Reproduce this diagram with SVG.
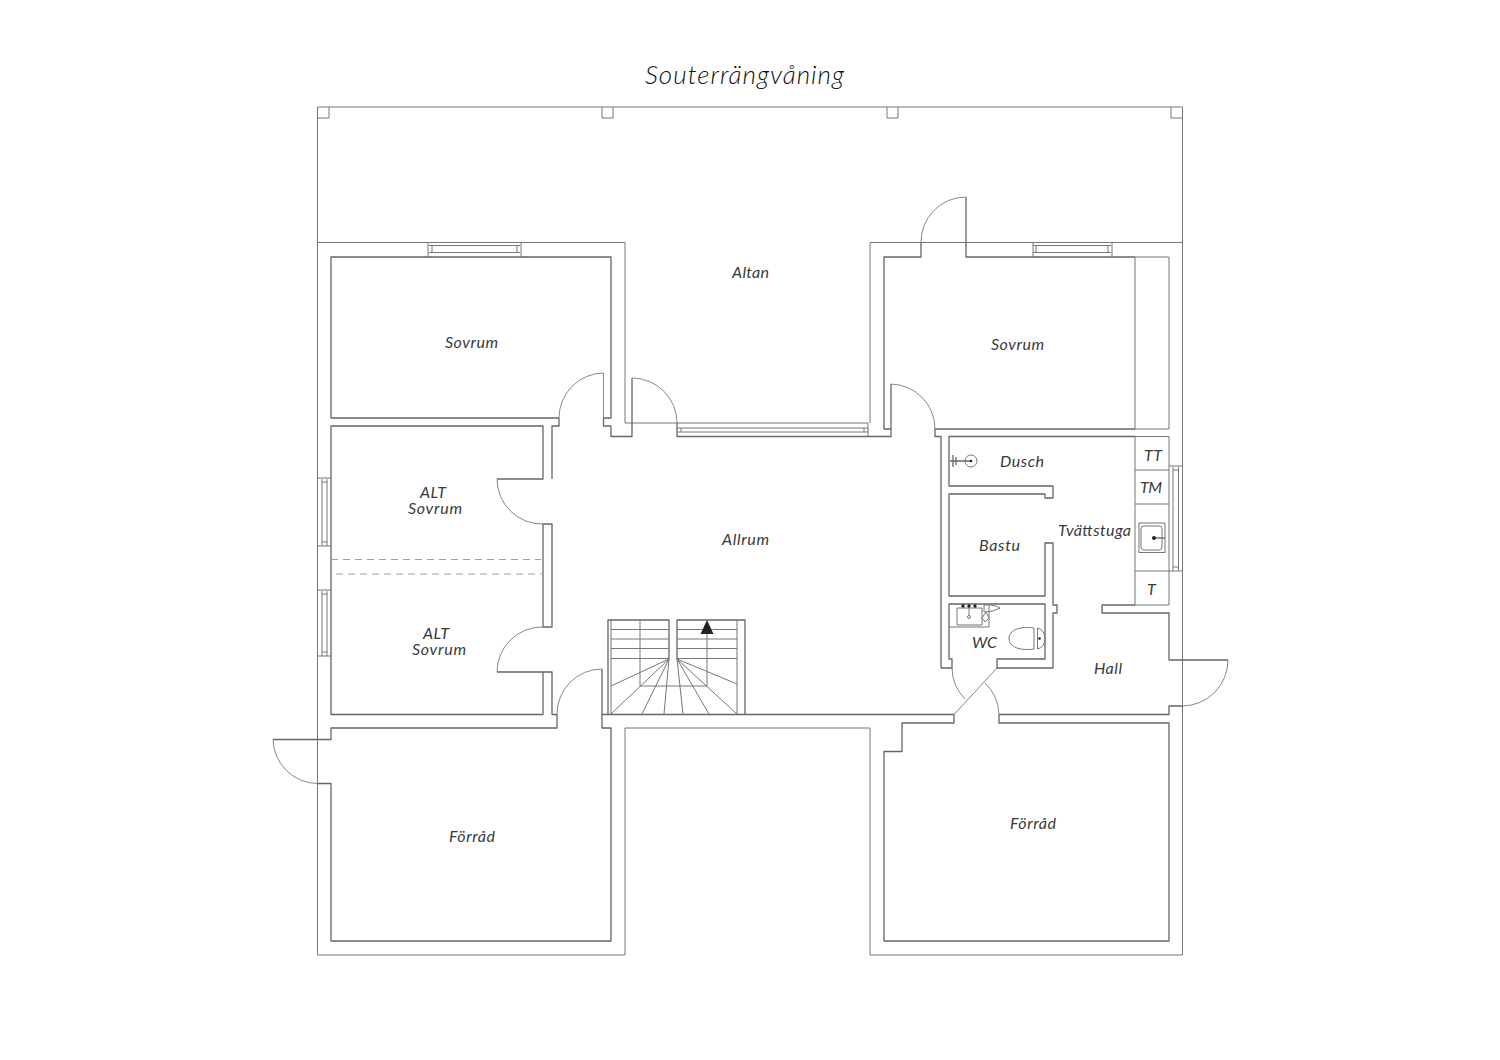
<svg xmlns="http://www.w3.org/2000/svg" width="1500" height="1060" viewBox="0 0 1500 1060">
<style>
.w{fill:none;stroke:#666;stroke-width:1.3;stroke-linejoin:round}
.t{fill:none;stroke:#777;stroke-width:1}
.g{fill:none;stroke:#888;stroke-width:1}
.d{fill:none;stroke:#a0a0a0;stroke-width:1.2;stroke-dasharray:7 5}
.k{fill:#222;stroke:none}
text{font-family:"Lato","Liberation Sans",sans-serif;font-style:italic;font-weight:400;font-size:16px;fill:#3a3a3a}
#title{font-size:26px;font-weight:300;fill:#111}
</style>
<rect width="1500" height="1060" fill="#fff"/>
<g id="terrace">
<path class="t" d="M317.500 955V107H1182.500V955"/>
<path class="t" d="M317.500 955H625V728H870V955H1182.500"/>
<path class="t" d="M317.500 118H329V107M602 107V118H613V107M887 107V118H898V107M1171 107V118H1182.500"/>
<path class="t" d="M317.500 242.500H625V423H868M870 423V242.500H1182.500"/>
</g>
<g id="walls">
<path class="w" d="M559 418H331V257H611V418H603.500V426H611V436.500H632V378"/>
<path class="w" d="M677 423V436.500H891V429H884V257H921V242.500M966 197V257H1135M941 668H952V659H949V604H1045V659H997V668H1053V613H1057V605H1053V543H1045V596H949V494H1045V498H1053V486H949V436.500H1135M941 668V436.500H935V429H1135M891 429V384"/>
<path class="t" d="M1135 257V429M1135 257H1169V429H1135M1135 436.500H1169V605H1135M1135 436.500V605M1135 470H1169M1135 504H1169M1135 571H1169"/>
<path class="w" d="M1135 605H1102V613H1169V660H1228"/>
<path class="w" d="M1182.500 706H1169V714.500H999V723H1169V941H884V751.500H902V723H954V714.500H745V620H677V659M669 659V620H608V714.500M602 669V728H611V941H331V783.500H317.500M273 739.500H331V728H557V714.500H552V672H497M543 672V714.500H331V426H543V479H497M552 479V426H559V418M543 524V627H552V524ZM602 714.500H745"/>
</g>
<g id="doors">
<path class="g" d="M603.500 373V418M603.500 373A45 45 0 0 0 559 418"/>
<path class="g" d="M632 378A45 45 0 0 1 677 423"/>
<path class="g" d="M891 384A45 45 0 0 1 935 429"/>
<path class="g" d="M966 197A45 45 0 0 0 921 242.500"/>
<path class="g" d="M497 479A45 45 0 0 0 543 524"/>
<path class="g" d="M543 627A45 45 0 0 0 497 672"/>
<path class="g" d="M602 669A45 45 0 0 0 557 714.500"/>
<path class="g" d="M273 739.500A45 45 0 0 0 317.500 783.500"/>
<path class="g" d="M1228 660A46 46 0 0 1 1182.500 706"/>
<path class="g" d="M952 668A45 45 0 0 0 965 699"/>
<path class="g" d="M997 668L954 714.500"/>
<path class="g" d="M985 683A45 45 0 0 1 999 714.500"/>
</g>
<g id="windows">
<path class="t" d="M428 242.500V257M521 242.500V257M429 245.500H520M429 252.500H520M432 245.500V252.500M517 245.500V252.500"/>
<path class="t" d="M1033 242.500V257M1112 242.500V257M1033 245.500H1111M1033 252.500H1111M1036 245.500V252.500M1108 245.500V252.500"/>
<path class="t" d="M677 428H868M677 432H868M868 423V436.500M681 428V432M864 428V432"/>
<path class="t" d="M317.500 478H331M317.500 546H331M322 479V546M327 479V546M322 482H327M322 542H327"/>
<path class="t" d="M317.500 590H331M317.500 656H331M322 591V656M327 591V656M322 594H327M322 652H327"/>
<path class="t" d="M1169 466H1182.500M1169 571H1182.500M1173 467V571M1178.500 467V571M1173 470H1178.500M1173 567H1178.500"/>
<path class="d" d="M331 559.500H541M336 574H543"/>
</g>
<g id="stairs">
<path class="t" d="M611 620V714.500M737 620V714.500"/>
<path class="t" d="M611 629.500H669M611 639H669M611 648.500H669M611 658.500H669M677 629.500H737M677 639H737M677 648.500H737M677 658.500H737"/>
<path class="t" d="M640 620V686H707V632"/>
<path class="t" d="M669 659L611 686M669 659L611 714M669 659L642 714M669 659L664 714M677 659L737 684M677 659L737 714M677 659L709 714M677 659L683 714"/>
<path class="k" d="M707 620L713.500 634H700.500Z"/>
</g>
<g id="fixtures">
<circle class="t" cx="971" cy="461" r="6"/>
<path class="w" d="M950 461H971M953 455V467M956 457V465"/>
<circle class="k" cx="971" cy="461" r="1.300"/>
<rect class="t" x="1139" y="523" width="26" height="29.500"/>
<rect class="t" x="1141" y="526" width="21" height="24" rx="3"/>
<path class="w" d="M1154 538H1165"/>
<circle class="k" cx="1154" cy="538" r="2"/>
<path class="t" d="M949 627H989V605M957 608H982V625H957Z"/>
<path class="t" d="M969 606V616"/>
<circle class="k" cx="963" cy="606" r="1.700"/><circle class="k" cx="969" cy="606" r="1.700"/><circle class="k" cx="975" cy="606" r="1.700"/>
<circle class="t" cx="969" cy="617" r="1.500"/>
<path class="t" d="M984 605Q994 604 1000 608Q994 612 984 612ZM986 612L989 618L985 622L982 618Z"/>
<path class="t" d="M1034 628C1020 626 1009 630 1009 638.500C1009 647 1020 651 1034 649M1034 628V649M1037.500 628V649M1037.500 628Q1045 630 1045 638.500Q1045 647 1037.500 649"/>
<circle class="k" cx="1039.500" cy="638.500" r="1.300"/>
</g>
<g id="labels">
<text id="title" x="645" y="84" textLength="199" lengthAdjust="spacing">Souterrängvåning</text>
<text x="732" y="278" textLength="37" lengthAdjust="spacing">Altan</text>
<text x="445" y="348" textLength="53" lengthAdjust="spacing">Sovrum</text>
<text x="991" y="350" textLength="53" lengthAdjust="spacing">Sovrum</text>
<text x="420" y="498" textLength="26" lengthAdjust="spacing">ALT</text>
<text x="408" y="514" textLength="54" lengthAdjust="spacing">Sovrum</text>
<text x="423" y="639" textLength="26" lengthAdjust="spacing">ALT</text>
<text x="412" y="655" textLength="54" lengthAdjust="spacing">Sovrum</text>
<text x="722" y="545" textLength="47" lengthAdjust="spacing">Allrum</text>
<text x="1000" y="467" textLength="44" lengthAdjust="spacing">Dusch</text>
<text x="979" y="551" textLength="41" lengthAdjust="spacing">Bastu</text>
<text x="1058" y="536" textLength="73" lengthAdjust="spacing">Tvättstuga</text>
<text x="1144" y="461" textLength="18" lengthAdjust="spacing">TT</text>
<text x="1140" y="493" textLength="22" lengthAdjust="spacing">TM</text>
<text x="1147" y="595" textLength="9" lengthAdjust="spacing">T</text>
<text x="972" y="648" textLength="25" lengthAdjust="spacing">WC</text>
<text x="1094" y="674" textLength="28" lengthAdjust="spacing">Hall</text>
<text x="449" y="842" textLength="46" lengthAdjust="spacing">Förråd</text>
<text x="1010" y="829" textLength="46" lengthAdjust="spacing">Förråd</text>
</g>
</svg>
